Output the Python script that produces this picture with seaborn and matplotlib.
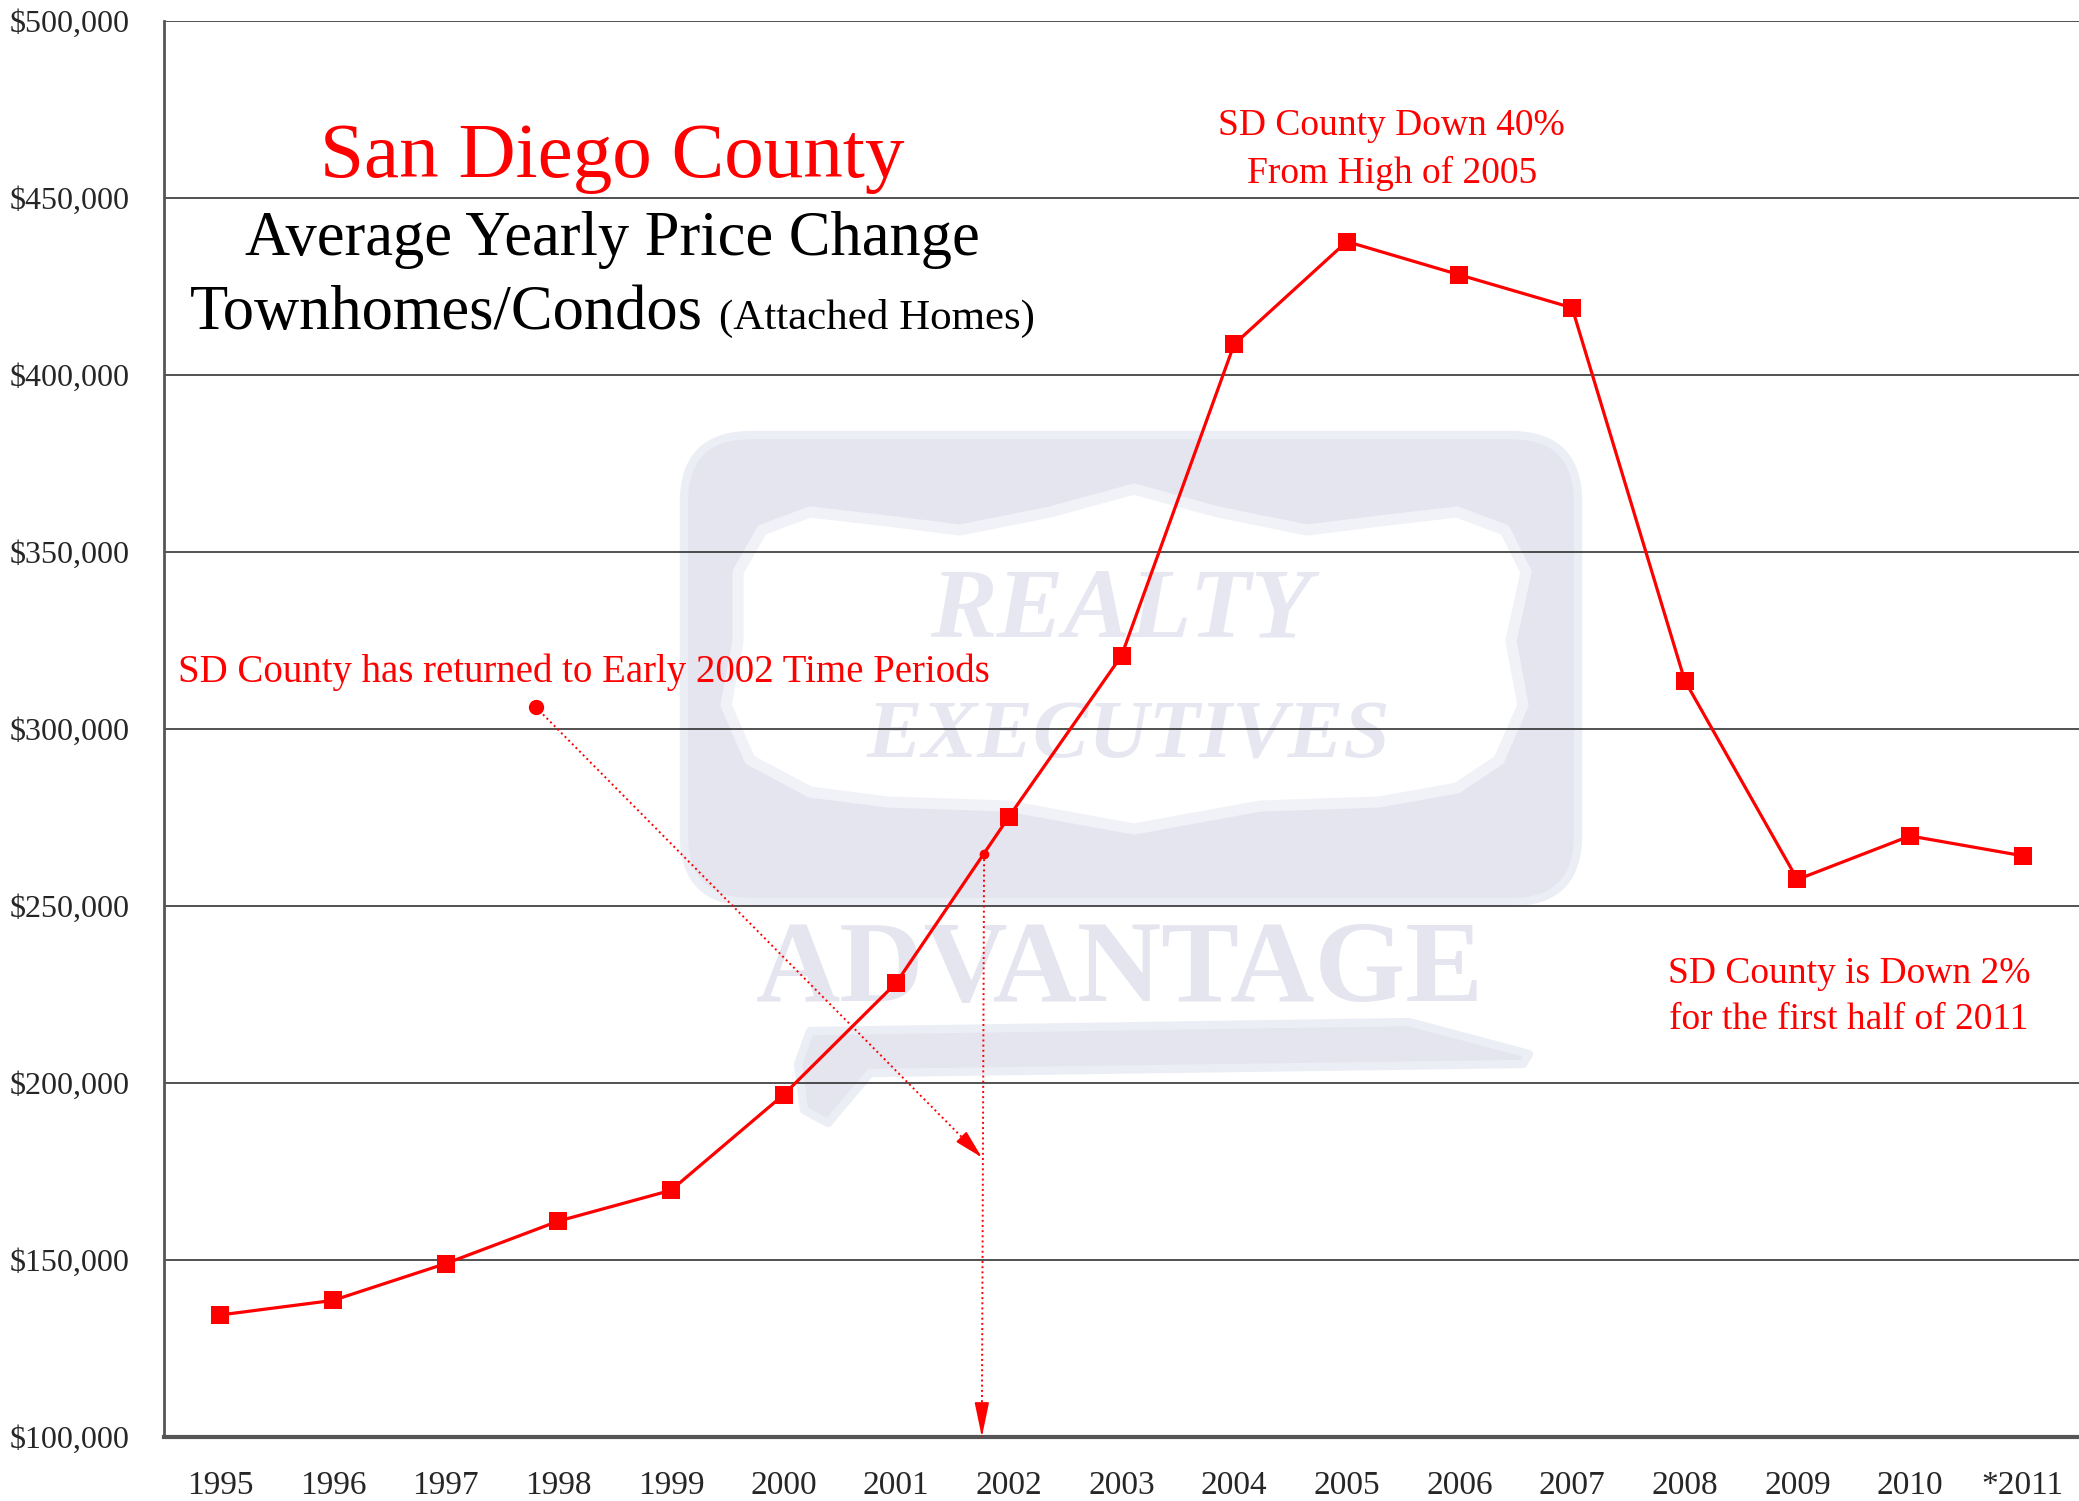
import numpy as np
import pandas as pd
import matplotlib
matplotlib.use("Agg")
import matplotlib.pyplot as plt
from matplotlib.patches import FancyBboxPatch, Polygon
import seaborn as sns

# data
years = ['1995', '1996', '1997', '1998', '1999', '2000', '2001', '2002', '2003',
         '2004', '2005', '2006', '2007', '2008', '2009', '2010', '*2011']
prices = [134500, 138600, 149000, 161000, 169700, 196700, 228300, 275200, 320700,
          408700, 437700, 428300, 419000, 313700, 257500, 269800, 264200]
y_ticks = [100000, 150000, 200000, 250000, 300000, 350000, 400000, 450000, 500000]

df = pd.DataFrame({'pos': np.arange(len(years)), 'price': prices})

sns.set_style("white")
plt.rcParams['font.family'] = ['Liberation Serif', 'DejaVu Serif']

fig = plt.figure(figsize=(20.79, 15.01), dpi=100)
ax = fig.add_axes([0.0789, 0.0426, 0.9211, 0.9434])


def frac(px, py):
    # figure pixel (from top-left) -> axes fraction, for the watermark only
    return ((px - 164) / 1915, (1437 - py) / 1416)


# faded logo watermark behind everything
lav = '#e4e5ef'
ax.add_patch(FancyBboxPatch((0.2715, 0.3778), 0.4669, 0.3298,
                            boxstyle='round,pad=0,rounding_size=0.035',
                            mutation_aspect=1.35, transform=ax.transAxes,
                            fc=lav, ec='#eceef5', lw=6, zorder=0.1))
shield_px = [(738, 572), (762, 530), (810, 512), (888, 521), (960, 530), (1050, 512),
             (1134, 489), (1218, 512), (1307, 530), (1379, 521), (1457, 512), (1505, 530),
             (1526, 572), (1511, 641), (1523, 705), (1499, 760), (1457, 788), (1379, 802),
             (1260, 806), (1134, 829), (1008, 806), (888, 802), (810, 792), (750, 760),
             (726, 705), (738, 641)]
ax.add_patch(Polygon([frac(*p) for p in shield_px], closed=True, transform=ax.transAxes,
                     fc='white', ec='#f1f2f8', lw=8, joinstyle='round', zorder=0.15))
band_px = [(810, 1031), (1409, 1022), (1529, 1054), (1523, 1064), (870, 1073),
           (828, 1123), (804, 1110), (798, 1064)]
ax.add_patch(Polygon([frac(*p) for p in band_px], closed=True, transform=ax.transAxes,
                     fc=lav, ec='#eceef5', lw=6, joinstyle='round', zorder=0.1))
ax.text(*frac(1121, 612), 'REALTY', transform=ax.transAxes, ha='center', va='center',
        fontsize=72, fontweight='bold', fontstyle='italic', color='#e6e7f1', zorder=0.2)
ax.text(*frac(1128, 738), 'EXECUTIVES', transform=ax.transAxes, ha='center', va='center',
        fontsize=60, fontweight='bold', fontstyle='italic', color='#e6e7f1', zorder=0.2)
ax.text(*frac(1120, 973), 'ADVANTAGE', transform=ax.transAxes, ha='center', va='center',
        fontsize=84, fontweight='bold', color=lav, zorder=0.2)

sns.lineplot(data=df, x='pos', y='price', ax=ax, color='red', lw=2.3,
             marker='s', markersize=13, markeredgewidth=0, zorder=3)

ax.set_xlim(-0.5, len(years) - 0.5)
ax.set_ylim(100000, 500000)
ax.set_yticks(y_ticks)
ax.set_yticklabels([f'${v:,.0f}' for v in y_ticks], fontsize=23)
ax.set_xticks(np.arange(len(years)))
ax.set_xticklabels(years, fontsize=24)
ax.set_xticks(np.arange(-0.5, len(years), 1), minor=True)
ax.tick_params(axis='x', which='major', length=0, pad=24)
ax.tick_params(axis='x', which='minor', length=16, width=1.2, color='#333333', direction='out')
ax.tick_params(axis='y', length=7, width=1.2, color='#333333', direction='out', pad=18)
ax.set_xlabel('')
ax.set_ylabel('')

ax.set_axisbelow(True)
ax.yaxis.grid(True, color='#222222', lw=1.1)
ax.xaxis.grid(False)
for s in ['top', 'right']:
    ax.spines[s].set_visible(False)
ax.spines['left'].set_color('#555555')
ax.spines['left'].set_linewidth(2)
ax.spines['bottom'].set_color('#555555')
ax.spines['bottom'].set_linewidth(3)

# titles
ax.text(3.48, 456000, 'San Diego County', color='red', fontsize=57, ha='center', va='baseline')
ax.text(3.48, 434000, 'Average Yearly Price Change', color='black', fontsize=45,
        ha='center', va='baseline')
ax.text(-0.27, 413000, 'Townhomes/Condos', color='black', fontsize=45, ha='left', va='baseline')
ax.text(4.43, 413000, '(Attached Homes)', color='black', fontsize=31, ha='left', va='baseline')

# annotations
ax.text(10.4, 463600, 'SD County Down 40%\nFrom High of 2005', color='red', fontsize=27,
        ha='center', va='center', linespacing=1.45)
ax.text(-0.38, 315900, 'SD County has returned to Early 2002 Time Periods', color='red',
        fontsize=28, ha='left', va='center')
ax.text(14.46, 224300, 'SD County is Down 2%\nfor the first half of 2011', color='red',
        fontsize=27, ha='center', va='center', linespacing=1.45)

# dotted pointer arrows
start = (2.80, 306200)
end = (6.76, 179000)
ax.plot(start[0], start[1], 'o', color='red', ms=10, zorder=4)
ax.plot([start[0], end[0]], [start[1], end[1]], ':', color='red', lw=1.4, zorder=4)
ax.annotate('', xy=end, xytext=(end[0] - 0.15, end[1] + 4800),
            arrowprops=dict(arrowstyle='-|>,head_length=1.0,head_width=0.25', color='red',
                            lw=1.2, shrinkA=0, shrinkB=0, mutation_scale=18), zorder=4)

dot = (6.78, 264700)
ax.plot(dot[0], dot[1], 'o', color='red', ms=6, zorder=4)
ax.plot([dot[0], 6.76], [dot[1], 100000], ':', color='red', lw=1.4, zorder=4)
ax.annotate('', xy=(6.76, 100000), xytext=(6.76, 108000),
            arrowprops=dict(arrowstyle='-|>,head_length=1.2,head_width=0.25', color='red',
                            lw=1.2, shrinkA=0, shrinkB=0, mutation_scale=18), zorder=4)

fig.savefig('out.png', dpi=100)
